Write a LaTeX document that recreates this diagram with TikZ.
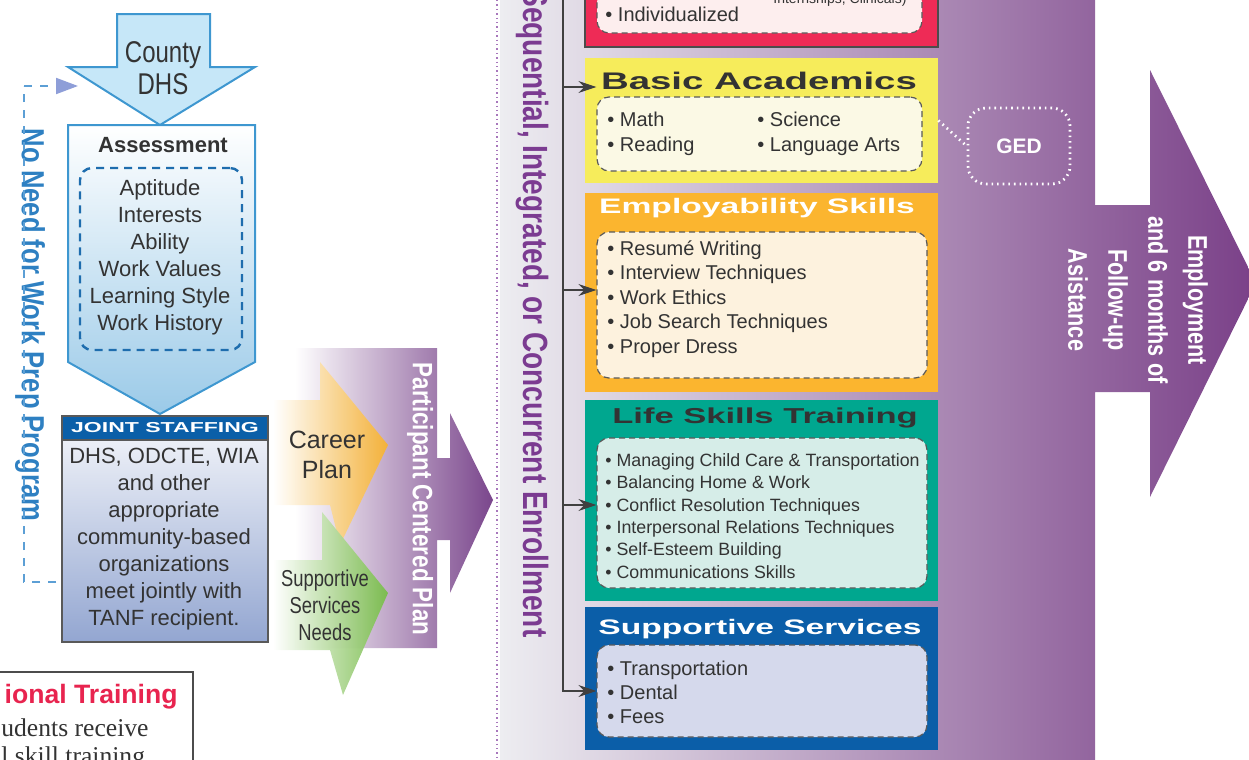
\documentclass[tikz,border=0pt]{standalone}
\usepackage{fontspec}
\setmainfont{Liberation Sans}
\newfontfamily\condfont{Liberation Sans}[FakeStretch=0.8]
\newfontfamily\widefont{Liberation Sans}[FakeStretch=1.6]
\newfontfamily\vocfont{Liberation Serif}
\usetikzlibrary{arrows.meta,fit,calc,positioning}

\definecolor{txtgrey}{HTML}{333333}
\definecolor{cntyfill}{HTML}{C6E7F8}
\definecolor{cntyline}{HTML}{3E97D0}
\definecolor{assbot}{HTML}{9BCAE8}
\definecolor{assdash}{HTML}{1E6DAE}
\definecolor{jointblue}{HTML}{0B5FA8}
\definecolor{jointbot}{HTML}{93A6D1}
\definecolor{needblue}{HTML}{2E80C2}
\definecolor{loopblue}{HTML}{5C9FD5}
\definecolor{looptip}{HTML}{8E9ED8}
\definecolor{carorange}{HTML}{F6B232}
\definecolor{supgreen}{HTML}{78BC4A}
\definecolor{planpurple}{HTML}{7A468C}
\definecolor{bgleft}{HTML}{EDEDF1}
\definecolor{bgright}{HTML}{7A4088}
\definecolor{seqpurple}{HTML}{7B3B91}
\definecolor{dotpurple}{HTML}{A877BC}
\definecolor{occred}{HTML}{EE2B56}
\definecolor{occpale}{HTML}{FDEEEE}
\definecolor{acadyellow}{HTML}{F6EC5B}
\definecolor{acadpale}{HTML}{FBF9E5}
\definecolor{emporange}{HTML}{FBB52F}
\definecolor{emppale}{HTML}{FDF2DE}
\definecolor{lifeteal}{HTML}{00A78F}
\definecolor{lifepale}{HTML}{D6EDE8}
\definecolor{supblue}{HTML}{0B5EA8}
\definecolor{suppale}{HTML}{D5D9EC}
\definecolor{vocred}{HTML}{E8244F}

\begin{document}
\begin{tikzpicture}[x=0.5pt,y=-0.5pt]
   \useasboundingbox (0,0) rectangle (1249,760);
   \clip (0,0) rectangle (1249,760);
   \tikzstyle{item}=[anchor=west, inner sep=0, text height=1.5ex, text depth=0.3ex, text=txtgrey]
   \tikzstyle{inbox}=[draw=black!65, dash pattern=on 3pt off 2pt, line width=0.6pt, rounded corners=6pt, inner sep=0]
   \tikzstyle{boxtitle}=[inner sep=0, font=\widefont\bfseries\fontsize{10.5}{12}\selectfont]
   \tikzstyle{vert}=[rotate=-90, align=center, inner sep=1pt, font=\condfont\bfseries]
   \tikzstyle{spine}=[draw=black!75, line width=0.6pt]
   \tikzstyle{tip}=[-{Stealth[length=9pt,width=6pt]}]
   % enrollment arrow behind the boxes
   \path[left color=bgleft, right color=bgright] (500,-5) -- (1095,-5) -- (1095,205) -- (1150,205) -- (1150,70)
      -- (1256,283) -- (1150,497) -- (1150,392) -- (1095,392) -- (1095,765) -- (500,765) -- cycle;
   \draw[dotpurple, line width=1.1pt, dash pattern=on 0.7pt off 1.5pt] (497,0) -- (497,760);
   \node[vert, text=white, font=\condfont\bfseries\fontsize{13.5}{20}\selectfont] (employ) at (1138,300)
      {Employment\\and 6 months of\\Follow-up\\Asistance};
   \node[vert, text=seqpurple, font=\condfont\bfseries\fontsize{17.5}{20}\selectfont] (seq) at (532,313)
      {Sequential, Integrated, or Concurrent Enrollment};

   % left column
   \path[fill=cntyfill, draw=cntyline, line width=1pt] (117,14) -- (210,14) -- (210,67) -- (255,67) -- (160,125)
      -- (68,67) -- (117,67) -- cycle;
   \node[align=center, text=txtgrey, font=\condfont\fontsize{15}{16}\selectfont] (county) at (163,68) {County\\DHS};
   \path[top color=white, bottom color=assbot, draw=cntyline, line width=1pt] (68,125) -- (255,125) -- (255,362)
      -- (160,414) -- (68,362) -- cycle;
   \node[text=txtgrey, font=\bfseries\fontsize{11}{13}\selectfont] (assess) at (163,145) {Assessment};
   \node[draw=assdash, line width=1.2pt, dash pattern=on 4pt off 3pt, rounded corners=6pt, inner sep=0,
      fit={(80,168) (242,350)}] (assbox) {};
   \node[align=center, text=txtgrey, font=\fontsize{11}{13.5}\selectfont] (asslist) at (160,257)
      {Aptitude\\Interests\\Ability\\Work Values\\Learning Style\\Work History};
   \node[top color=white!92!jointbot, bottom color=jointbot, draw=black!65, line width=0.8pt, inner sep=0,
      fit={(62,416) (268,642)}] (joint) {};
   \node[fill=jointblue, draw=black!65, line width=0.8pt, inner sep=0, fit={(62,416) (268,440)}] (jointhead) {};
   \node[text=white, font=\widefont\bfseries\fontsize{7.2}{8}\selectfont] at (jointhead) {JOINT STAFFING};
   \node[align=center, text=txtgrey, font=\fontsize{11}{13.5}\selectfont] (jointtext) at (164,539)
      {DHS, ODCTE, WIA\\and other\\appropriate\\community-based\\organizations\\meet jointly with\\TANF recipient.};
   \node[vert, fill=white, text=needblue, font=\condfont\bfseries\fontsize{16}{18}\selectfont] (noneed) at (30,325)
      {No Need for Work Prep Program};
   \coordinate (loopstart) at (56,582);
   \coordinate (loopcorner) at (24,86);
   \coordinate (loopend) at (78,86);
   \draw[loopblue, line width=1pt, dash pattern=on 4pt off 4pt] (loopstart) -| (loopcorner);
   \draw[loopblue, line width=1pt, dash pattern=on 4pt off 4pt, -{Triangle[length=11pt,width=8pt,color=looptip]}]
      (loopcorner) -- (loopend);

   % participant centered plan
   \path[left color=white, right color=planpurple] (295,348) -- (437,348) -- (437,458) -- (450,458) -- (450,413)
      -- (493,500) -- (450,593) -- (450,540) -- (437,540) -- (437,648) -- (295,648) -- cycle;
   \path[left color=white, right color=carorange, opacity=0.95] (273,400) -- (320,400) -- (320,362) -- (388,445)
      -- (340,545) -- (330,505) -- (273,505) -- cycle;
   \path[left color=white, right color=supgreen, opacity=0.95] (273,560) -- (322,560) -- (322,512) -- (388,593)
      -- (343,695) -- (330,650) -- (273,650) -- cycle;
   \node[align=center, text=txtgrey, font=\fontsize{12.5}{15}\selectfont] (career) at (327,455) {Career\\Plan};
   \node[align=center, text=txtgrey, font=\condfont\fontsize{11.5}{13.5}\selectfont] (supneeds) at (325,605)
      {Supportive\\Services\\Needs};
   \node[vert, text=white, font=\condfont\bfseries\fontsize{14}{16}\selectfont] (plan) at (420,499)
      {Participant Centered Plan};

   % option boxes
   \node[fill=occred, draw=black!70, line width=1pt, inner sep=0, fit={(585,-10) (938,47)}] (occ) {};
   \node[inbox, fill=occpale, fit={(597,-10) (922,33)}] (occin) {};
   \node[item, font=\fontsize{10}{12}\selectfont] (occ1) at (605,-9) {\textbullet\ Niche Market};
   \node[item, font=\fontsize{10}{12}\selectfont] (occ2) at (605,15) {\textbullet\ Individualized};
   \node[item, font=\fontsize{7}{8}\selectfont] (occ3) at (773,-3) {Internships, Clinicals)};

   \node[fill=acadyellow, inner sep=0, fit={(585,58) (938,183)}] (acad) {};
   \node[inbox, fill=acadpale, fit={(597,97) (922,171)}] (acadin) {};
   \node[boxtitle, text=txtgrey, font=\widefont\bfseries\fontsize{12}{14}\selectfont] (acadtitle) at (759,81) {Basic Academics};
   \foreach \i/\x/\y/\txt in {1/607/120/Math, 2/607/145/Reading, 3/757/120/Science, 4/757/145/Language Arts}
      \node[item, font=\fontsize{10}{12}\selectfont] (acad\i) at (\x,\y) {\textbullet\ \txt};

   \node[fill=emporange, inner sep=0, fit={(585,193) (938,392)}] (emp) {};
   \node[inbox, fill=emppale, fit={(597,232) (927,378)}] (empin) {};
   \node[boxtitle, text=white] (emptitle) at (757,208) {Employability Skills};
   \foreach \i/\txt in {1/Resumé Writing, 2/Interview Techniques, 3/Work Ethics, 4/Job Search Techniques, 5/Proper Dress}
      \node[item, font=\fontsize{10}{12}\selectfont] (emp\i) at (607,224.5+24.5*\i) {\textbullet\ \txt};

   \node[fill=lifeteal, inner sep=0, fit={(585,400) (938,601)}] (life) {};
   \node[inbox, fill=lifepale, fit={(597,438) (927,588)}] (lifein) {};
   \node[boxtitle, text=txtgrey, font=\widefont\bfseries\fontsize{10.8}{12}\selectfont] (lifetitle) at (765,418) {Life Skills Training};
   \foreach \i/\txt in {1/Managing Child Care \& Transportation, 2/Balancing Home \& Work, 3/Conflict Resolution Techniques,
      4/Interpersonal Relations Techniques, 5/Self-Esteem Building, 6/Communications Skills}
      \node[item, font=\fontsize{8.9}{10}\selectfont] (life\i) at (605,437.6+22.4*\i) {\textbullet\ \txt};

   \node[fill=supblue, inner sep=0, fit={(585,607) (938,750)}] (sup) {};
   \node[inbox, fill=suppale, fit={(597,645) (927,737)}] (supin) {};
   \node[boxtitle, text=white] (suptitle) at (760,629) {Supportive Services};
   \foreach \i/\txt in {1/Transportation, 2/Dental, 3/Fees}
      \node[item, font=\fontsize{10}{12}\selectfont] (sup\i) at (607,645+24*\i) {\textbullet\ \txt};

   % spine with arrows into the boxes
   \coordinate (spinetop) at (563,-5);
   \coordinate (spacad) at (563,87);
   \coordinate (spemp) at (563,290);
   \coordinate (splife) at (563,505);
   \draw[spine, tip] (spinetop) |- (supin.west);
   \draw[spine, tip] (spacad) -- (spacad -| acadin.west);
   \draw[spine, tip] (spemp) -- (spemp -| empin.west);
   \draw[spine, tip] (splife) -- (splife -| lifein.west);

   % GED
   \node[draw=white, line width=1.4pt, dash pattern=on 0.8pt off 2pt, rounded corners=9pt, inner sep=0,
      fit={(968,108) (1070,184)}] (gedbox) {};
   \node[text=white, font=\bfseries\fontsize{10.5}{12}\selectfont] (ged) at (gedbox) {GED};
   \draw[white, line width=1.4pt, dash pattern=on 0.8pt off 2pt] (acad.east) -- (gedbox.west);

   % vocational training box (cut off)
   \node[fill=white, draw=black!70, line width=1pt, inner sep=0, fit={(-10,672) (193,790)}] (voc) {};
   \node[anchor=east, inner sep=0, text=vocred, font=\bfseries\fontsize{13.3}{15}\selectfont] (voctitle) at (178,697) {ional Training};
   \node[anchor=west, inner sep=0, text=txtgrey, font=\vocfont\fontsize{12.8}{15}\selectfont] (voc1) at (1,728) {udents receive};
   \node[anchor=west, inner sep=0, text=txtgrey, font=\vocfont\fontsize{12.8}{15}\selectfont] (voc2) at (1,758) {l skill training};
\end{tikzpicture}
\end{document}
